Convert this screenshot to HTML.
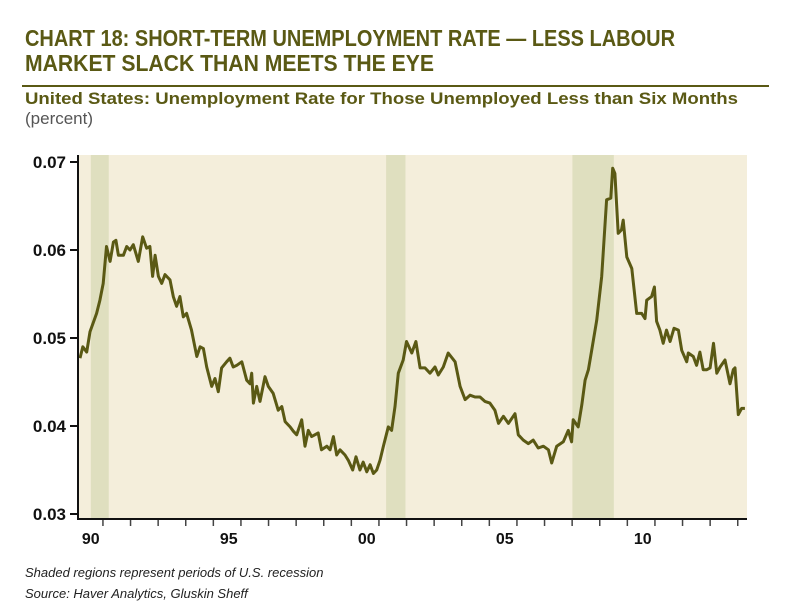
<!DOCTYPE html>
<html><head><meta charset="utf-8"><style>
html,body{margin:0;padding:0;background:#fff;width:800px;height:608px;overflow:hidden}
svg{display:block}
</style></head><body>
<svg id="chart" width="800" height="608" viewBox="0 0 800 608" xmlns="http://www.w3.org/2000/svg">
<text x="25" y="46" font-family="Liberation Sans, sans-serif" font-weight="bold" font-size="23" fill="#5a5914" textLength="650" lengthAdjust="spacingAndGlyphs">CHART 18: SHORT-TERM UNEMPLOYMENT RATE — LESS LABOUR</text>
<text x="25" y="71" font-family="Liberation Sans, sans-serif" font-weight="bold" font-size="23" fill="#5a5914" textLength="409" lengthAdjust="spacingAndGlyphs">MARKET SLACK THAN MEETS THE EYE</text>
<line x1="22" y1="86" x2="769" y2="86" stroke="#5a5914" stroke-width="2"/>
<text x="25" y="104" font-family="Liberation Sans, sans-serif" font-weight="bold" font-size="17" fill="#5a5914" textLength="713" lengthAdjust="spacingAndGlyphs">United States: Unemployment Rate for Those Unemployed Less than Six Months</text>
<text x="25" y="124" font-family="Liberation Sans, sans-serif" font-size="17" fill="#555">(percent)</text>
<rect x="78" y="155" width="669" height="364" fill="#f4eedb"/>
<g id="recessions"></g>
<g id="yaxis"></g>
<g id="xaxis"></g>
<path id="series" fill="none" stroke="#5a5914" stroke-width="3" stroke-linejoin="round"/>
<line x1="78" y1="155" x2="78" y2="520" stroke="#111" stroke-width="2"/>
<line x1="77" y1="519" x2="747" y2="519" stroke="#111" stroke-width="2"/>
<text x="25" y="577" font-family="Liberation Sans, sans-serif" font-style="italic" font-size="13" fill="#222">Shaded regions represent periods of U.S. recession</text>
<text x="25" y="598" font-family="Liberation Sans, sans-serif" font-style="italic" font-size="13" fill="#222">Source: Haver Analytics, Gluskin Sheff</text>
</svg>
<script>
const dates = [1990.11,1990.21,1990.35,1990.47,1990.71,1990.83,1990.95,1991.07,1991.20,1991.32,1991.41,1991.50,1991.68,1991.80,1991.92,1992.04,1992.22,1992.38,1992.52,1992.64,1992.74,1992.83,1992.95,1993.07,1993.19,1993.37,1993.49,1993.61,1993.73,1993.85,1993.97,1994.15,1994.34,1994.46,1994.58,1994.70,1994.88,1995.00,1995.12,1995.24,1995.42,1995.54,1995.66,1995.79,1995.97,1996.15,1996.27,1996.33,1996.39,1996.51,1996.63,1996.81,1996.93,1997.11,1997.29,1997.42,1997.54,1997.72,1997.84,1997.96,1998.14,1998.26,1998.38,1998.50,1998.74,1998.86,1999.05,1999.17,1999.29,1999.41,1999.53,1999.71,1999.83,1999.99,2000.11,2000.25,2000.37,2000.50,2000.62,2000.74,2000.86,2000.98,2001.10,2001.28,2001.40,2001.52,2001.64,2001.82,2001.94,2002.13,2002.28,2002.43,2002.61,2002.79,2002.97,2003.09,2003.27,2003.45,2003.70,2003.88,2004.06,2004.24,2004.42,2004.60,2004.78,2004.96,2005.14,2005.27,2005.45,2005.63,2005.87,2005.99,2006.17,2006.35,2006.53,2006.71,2006.90,2007.08,2007.20,2007.38,2007.62,2007.80,2007.92,2007.98,2008.16,2008.29,2008.41,2008.53,2008.65,2008.83,2009.01,2009.19,2009.34,2009.41,2009.49,2009.61,2009.73,2009.79,2009.92,2010.10,2010.28,2010.46,2010.58,2010.64,2010.82,2010.92,2011.00,2011.12,2011.24,2011.36,2011.49,2011.63,2011.79,2011.91,2012.09,2012.15,2012.33,2012.45,2012.57,2012.69,2012.82,2012.94,2013.06,2013.18,2013.30,2013.48,2013.66,2013.78,2013.84,2013.96,2014.08,2014.20];
const rates = [0.0477,0.0490,0.0484,0.0507,0.0528,0.0543,0.0562,0.0604,0.0587,0.0609,0.0611,0.0594,0.0594,0.0604,0.0600,0.0606,0.0587,0.0615,0.0602,0.0604,0.0570,0.0594,0.0570,0.0562,0.0572,0.0566,0.0547,0.0536,0.0547,0.0524,0.0528,0.0509,0.0479,0.0490,0.0488,0.0467,0.0445,0.0454,0.0439,0.0466,0.0473,0.0477,0.0467,0.0469,0.0473,0.0452,0.0448,0.0460,0.0426,0.0445,0.0428,0.0456,0.0445,0.0437,0.0418,0.0422,0.0405,0.0399,0.0394,0.0390,0.0407,0.0377,0.0395,0.0388,0.0392,0.0373,0.0377,0.0373,0.0388,0.0367,0.0373,0.0367,0.0361,0.0350,0.0365,0.0350,0.0359,0.0348,0.0356,0.0346,0.0350,0.0361,0.0377,0.0399,0.0395,0.0422,0.0460,0.0475,0.0496,0.0483,0.0496,0.0466,0.0466,0.0460,0.0467,0.0458,0.0467,0.0483,0.0473,0.0445,0.0430,0.0435,0.0433,0.0433,0.0428,0.0426,0.0418,0.0403,0.0411,0.0403,0.0414,0.0390,0.0384,0.0380,0.0384,0.0375,0.0377,0.0373,0.0358,0.0377,0.0382,0.0395,0.0382,0.0407,0.0399,0.0424,0.0452,0.0464,0.0486,0.0520,0.0570,0.0657,0.0659,0.0693,0.0687,0.0619,0.0623,0.0634,0.0592,0.0579,0.0528,0.0528,0.0522,0.0543,0.0547,0.0558,0.0519,0.0509,0.0494,0.0509,0.0496,0.0511,0.0509,0.0486,0.0473,0.0483,0.0479,0.0469,0.0484,0.0464,0.0464,0.0466,0.0494,0.0460,0.0467,0.0475,0.0448,0.0464,0.0466,0.0413,0.0420,0.0420];
const recStart = [1990.5, 2001.2, 2007.95];
const recEnd = [1991.15, 2001.9, 2009.45];
const yTicks = [0.03,0.04,0.05,0.06,0.07];
const yTickLabels = ["0.03","0.04","0.05","0.06","0.07"];
const xLabelYears = [1990,1995,2000,2005,2010];
const xLabels = ["90","95","00","05","10"];

const NS = "http://www.w3.org/2000/svg";
const X = t => 77 + (t - 1990) * 27.6;
const Y = v => 514 - (v - 0.03) / 0.04 * 352;
function mk(tag, attrs, parent){const e=document.createElementNS(NS,tag);for(const k in attrs)e.setAttribute(k,attrs[k]);parent.appendChild(e);return e;}

const rg = document.getElementById('recessions');
recStart.forEach((s,i)=>{
  const r = mk('rect',{x:X(s),y:155,width:X(recEnd[i])-X(s),height:364,fill:'#dfdfbf'},rg);
  
  
});

const ya = document.getElementById('yaxis');
yTicks.forEach((v,i)=>{
  const l = mk('line',{x1:70,x2:78,y1:Y(v),y2:Y(v),stroke:'#111','stroke-width':2},ya);
  
  
  const t = mk('text',{x:66,y:Y(v)+6,'text-anchor':'end','font-family':'Liberation Sans, sans-serif','font-weight':'bold','font-size':17,fill:'#111'},ya);
  t.textContent = yTickLabels[i];
  
  
});

const xa = document.getElementById('xaxis');
for(let yr=1990; yr<=2013; yr++){
  const x = X(yr + 0.94);
  const l = mk('line',{x1:x,x2:x,y1:520,y2:526,stroke:'#444','stroke-width':1.5},xa);
  
  
}
xLabelYears.forEach((yr,i)=>{
  const t = mk('text',{x:X(yr+0.5),y:544,'text-anchor':'middle','font-family':'Liberation Sans, sans-serif','font-weight':'bold','font-size':16,fill:'#111'},xa);
  t.textContent = xLabels[i];
  
  
});

document.getElementById('series').setAttribute('d', dates.map((d,i)=>(i?'L':'M')+X(d).toFixed(1)+' '+Y(rates[i]).toFixed(1)).join(' '));
</script>
</body></html>
